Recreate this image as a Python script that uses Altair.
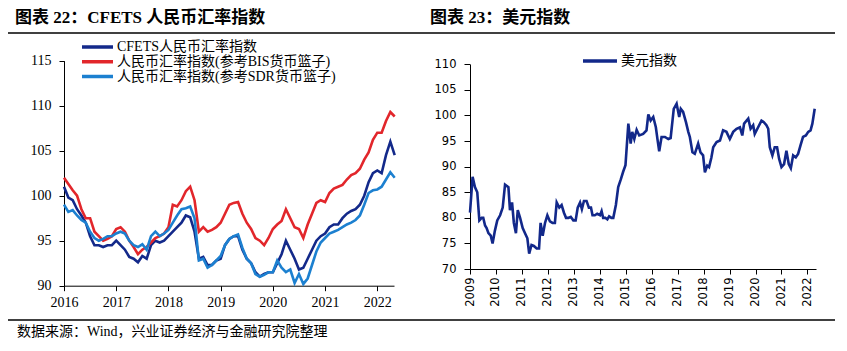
import altair as alt
import pandas as pd

SERIF = "Liberation Serif, Noto Sans CJK SC"
SANS = "DejaVu Sans, Noto Sans CJK SC"

# ---------------- Left panel: CFETS indices (monthly, 2016-01 .. 2022-05) ----------------
cfets_names = ["CFETS人民币汇率指数", "人民币汇率指数(参考BIS货币篮子)", "人民币汇率指数(参考SDR货币篮子)"]
cfets_colors = ["#13298A", "#E2262B", "#1C80D0"]

cfets_months = [2016 + i / 12 for i in range(77)]
cfets_navy = [101, 99.8, 99.5, 98.5, 97.8, 97, 95.5, 94.5, 94.5, 94.3, 94.5, 94.5,
              95, 94.5, 94, 93.2, 93, 92.6, 93.3, 93, 94.5, 95, 94.8, 95,
              95.5, 96, 96.5, 97, 97.8, 97.6, 96, 93, 93.2, 92.3, 92.3, 92.8,
              93, 94.5, 95.2, 95.5, 95.5, 94, 93, 92.5, 91.5, 91, 91.3, 91.5,
              91.5, 92.5, 93.5, 95, 94, 93, 91.8, 92, 93, 94, 95, 95.5,
              95.8, 96.5, 96.8, 96.8, 97.5, 98, 98.3, 98.5, 99, 100, 101.5, 102.5,
              102.8, 102.5, 104.5, 106, 104.5]
cfets_bis = [102, 101.3, 100.6, 100, 98.5, 97.5, 97.5, 96, 95.5, 95, 95.2, 95.5,
             96.3, 96.5, 96, 95, 94.3, 93.5, 94, 94.3, 94.8, 95.3, 95.5, 95.8,
             96.5, 99, 98.8, 99.5, 100.5, 101, 99.5, 96, 96.5, 96, 96.2, 96.5,
             97, 98, 99, 99.2, 99.3, 98, 97, 96.3, 95.3, 95, 94.5, 95.3,
             96.3, 96.8, 97.2, 98.5, 97.5, 96.5, 96.3, 95.3, 96.8, 98, 99.2, 99.5,
             99.3, 100.3, 100.8, 101, 101.2, 101.8, 102.3, 102.5, 103, 104, 104.8, 106.2,
             107, 107, 108.3, 109.3, 108.8]
cfets_sdr = [99, 98.2, 98.4, 97.8, 97.3, 97, 96, 95.3, 95, 95.2, 95.5, 95.5,
             95.8, 96, 95.8, 95, 94.5, 94.3, 94.6, 94, 95.5, 96, 95.5, 95.8,
             96.2, 97, 97.8, 98.5, 98.6, 98.8, 97.5, 92.8, 93, 92, 92.3, 92.8,
             93.3, 94.5, 95.2, 95.5, 95.7, 94.2, 93, 92.5, 91.3, 91, 91.2, 91.5,
             91.5, 92.8, 92, 91.5, 91.8, 90.3, 91.3, 90.2, 90.8, 92.3, 93.8, 94.8,
             95.3, 95.8, 96, 96.2, 96.5, 96.8, 97, 97.3, 97.8, 99, 100.3, 100.6,
             100.7, 101, 101.8, 102.6, 102]
cfets_ticks_y = [90, 95, 100, 105, 110, 115]
cfets_ticks_x = [2016, 2017, 2018, 2019, 2020, 2021, 2022]

# ---------------- Right panel: US dollar index ----------------
usd_name = "美元指数"
usd_t = [2009.00, 2009.10, 2009.19, 2009.28, 2009.36, 2009.45, 2009.51, 2009.58, 2009.64, 2009.71,
         2009.80, 2009.87, 2009.96, 2010.05, 2010.16, 2010.26, 2010.35, 2010.48, 2010.54, 2010.62,
         2010.69, 2010.77, 2010.84, 2010.93, 2011.03, 2011.12, 2011.21, 2011.28, 2011.37, 2011.46,
         2011.57, 2011.66, 2011.72, 2011.80, 2011.89, 2011.98, 2012.08, 2012.18, 2012.27, 2012.34,
         2012.44, 2012.53, 2012.62, 2012.70, 2012.79, 2012.88, 2012.98, 2013.07, 2013.15, 2013.24,
         2013.31, 2013.39, 2013.49, 2013.58, 2013.66, 2013.72, 2013.81, 2013.90, 2014.01, 2014.07,
         2014.13, 2014.21, 2014.29, 2014.36, 2014.45, 2014.52, 2014.62, 2014.71, 2014.81, 2014.90,
         2014.99, 2015.10, 2015.19, 2015.25, 2015.33, 2015.42, 2015.52, 2015.67, 2015.80, 2015.87,
         2015.96, 2016.06, 2016.16, 2016.23, 2016.29, 2016.38, 2016.51, 2016.64, 2016.73, 2016.85,
         2016.96, 2017.06, 2017.12, 2017.21, 2017.32, 2017.41, 2017.47, 2017.57, 2017.66, 2017.79,
         2017.88, 2017.98, 2018.05, 2018.14, 2018.21, 2018.30, 2018.37, 2018.50, 2018.63, 2018.75,
         2018.88, 2019.01, 2019.14, 2019.27, 2019.40, 2019.49, 2019.56, 2019.72, 2019.81, 2019.91,
         2019.97, 2020.10, 2020.23, 2020.32, 2020.42, 2020.49, 2020.55, 2020.65, 2020.74, 2020.83,
         2020.91, 2021.00, 2021.10, 2021.19, 2021.28, 2021.36, 2021.45, 2021.55, 2021.64, 2021.73,
         2021.83, 2021.94, 2022.03, 2022.12, 2022.19, 2022.28]
usd_v = [81, 88, 86, 85, 79.5, 80, 80, 78.5, 78, 77,
         76.5, 75, 77.5, 79.5, 80.5, 82, 86.5, 86, 81.5, 83,
         79, 77, 81.5, 80, 78, 77, 76, 73, 74.7, 74.5,
         74, 74, 79, 76.5, 79, 80.5, 79.3, 79, 79, 83,
         82, 82.5, 81, 80, 80, 80.2, 79.5, 79.5, 82, 83,
         81.7, 83.3, 83.3, 82, 82, 80.5, 80.5, 80.8, 80.5, 81.3,
         80, 80, 79.7, 80.3, 80, 80, 82.5, 86, 87.5, 89,
         90.3, 98.4, 94.5, 96.8, 95.4, 97.2, 96.1, 96.4, 97.1, 100.2,
         99, 99.7, 97.7, 95.1, 93, 95.8, 95.8, 95.4, 95.6, 101.3,
         102.3, 99.7, 101.3, 100.7, 98.7, 96.8, 95.8, 92.8, 92.5, 94.5,
         92.8, 92.2, 88.9, 90.2, 89.9, 91.8, 93.8, 94.8, 95.1, 97.1,
         96.8, 95.4, 96.8, 97.4, 97.7, 96.1, 98.4, 99.4, 97.4, 98.1,
         96.4, 97.7, 99, 98.7, 98.1, 97.4, 93.8, 92.2, 93.8, 93.8,
         91.5, 89.9, 90.5, 93.1, 90.5, 89.7, 92.2, 91.8, 92.5, 94.1,
         95.8, 96.1, 96.8, 97.1, 98.4, 101.3]
usd_ticks_y = [70, 75, 80, 85, 90, 95, 100, 105, 110]
usd_ticks_x = list(range(2009, 2023))
usd_color = "#12288A"

# ---------------- Texts ----------------
title_left = "图表 22：CFETS 人民币汇率指数"
title_right = "图表 23：美元指数"
source_note = "数据来源：Wind，兴业证券经济与金融研究院整理"

rows = []
for name, vals in zip(cfets_names, [cfets_navy, cfets_bis, cfets_sdr]):
    for t, v in zip(cfets_months, vals):
        rows.append({"t": t, "v": v, "s": name})
left_df = pd.DataFrame(rows)
right_df = pd.DataFrame({"t": usd_t, "v": usd_v, "s": usd_name})
left_leg_df = pd.DataFrame({"s": cfets_names})
right_leg_df = pd.DataFrame({"s": [usd_name]})
dummy = pd.DataFrame({"a": [0]})

left_color = alt.Color("s:N", scale=alt.Scale(domain=cfets_names, range=cfets_colors), legend=None)

left = alt.Chart(left_df).mark_line(strokeWidth=2.6).encode(
    x=alt.X("t:Q",
            scale=alt.Scale(domain=[2016, 2022.32], range=[64, 394], nice=False, zero=False),
            axis=alt.Axis(orient="bottom", offset=-65.3, values=cfets_ticks_x, format="d",
                          title=None, grid=False, domainColor="black", tickColor="black",
                          tickSize=5, labelPadding=5, labelFont=SERIF, labelFontSize=14,
                          labelColor="black", labelFlush=False)),
    y=alt.Y("v:Q",
            scale=alt.Scale(domain=[90, 115], range=[285.7, 60.7], nice=False, zero=False),
            axis=alt.Axis(orient="left", offset=-64, values=cfets_ticks_y, title=None, grid=False,
                          domainColor="black", tickColor="black", tickSize=5, labelPadding=8,
                          labelFont=SERIF, labelFontSize=14, labelColor="black")),
    color=left_color,
)

# legend for the left panel (rows placed by a point scale)
left_leg_y = alt.Y("s:N", scale=alt.Scale(type="point", domain=cfets_names, range=[47, 76.5], padding=0),
                   axis=None)
left_leg_sym = alt.Chart(left_leg_df).mark_rule(strokeWidth=3.5).encode(
    x=alt.value(82), x2=alt.value(113), y=left_leg_y, color=left_color)
left_leg_txt = alt.Chart(left_leg_df).mark_text(align="left", baseline="middle", font=SERIF,
                                                fontSize=14, color="black").encode(
    x=alt.value(117), y=left_leg_y, text="s:N")

right = alt.Chart(right_df).mark_line(strokeWidth=2.6, color=usd_color).encode(
    x=alt.X("t:Q",
            scale=alt.Scale(domain=[2009, 2022.33], range=[470, 816], nice=False, zero=False),
            axis=alt.Axis(orient="bottom", offset=-82, values=usd_ticks_x, format="d", title=None,
                          grid=False, domainColor="black", tickColor="black", tickSize=5,
                          labelPadding=3, labelAngle=270, labelAlign="right", labelBaseline="middle",
                          labelFont=SANS, labelFontSize=11.5, labelColor="black", labelFlush=False)),
    y=alt.Y("v:Q",
            scale=alt.Scale(domain=[70, 110], range=[269, 64.3], nice=False, zero=False),
            axis=alt.Axis(orient="left", offset=-470, values=usd_ticks_y, title=None, grid=False,
                          domainColor="black", tickColor="black", tickSize=6, labelPadding=8,
                          labelFont=SANS, labelFontSize=11.5, labelColor="black")),
)

right_leg_y = alt.Y("s:N", scale=alt.Scale(type="point", domain=[usd_name], range=[61, 61], padding=0),
                    axis=None)
right_leg_sym = alt.Chart(right_leg_df).mark_rule(strokeWidth=3.5, color=usd_color).encode(
    x=alt.value(583), x2=alt.value(617), y=right_leg_y)
right_leg_txt = alt.Chart(right_leg_df).mark_text(align="left", baseline="middle", font=SERIF,
                                                  fontSize=14, color="black").encode(
    x=alt.value(621), y=right_leg_y, text="s:N")


def text_layer(txt, x, y, size, weight="normal"):
    return alt.Chart(dummy).mark_text(align="left", baseline="middle", font=SERIF,
                                      fontSize=size, fontWeight=weight, color="black").encode(
        x=alt.value(x), y=alt.value(y), text=alt.value(txt))


def hrule(y):
    return alt.Chart(dummy).mark_rule(color="black", strokeWidth=1.3).encode(
        x=alt.value(8), x2=alt.value(835), y=alt.value(y))


chart = alt.layer(
    hrule(33), hrule(320),
    text_layer(title_left, 15, 18, 17, "bold"),
    text_layer(title_right, 430, 18, 17, "bold"),
    text_layer(source_note, 17, 332, 14),
    left, left_leg_sym, left_leg_txt,
    right, right_leg_sym, right_leg_txt,
).resolve_scale(x="independent", y="independent", color="independent").properties(
    width=847, height=351, padding=0, autosize=alt.AutoSizeParams(type="none"), background="white"
).configure_view(stroke=None)

chart.save("out.html", embed_options={"renderer": "svg", "actions": False})
